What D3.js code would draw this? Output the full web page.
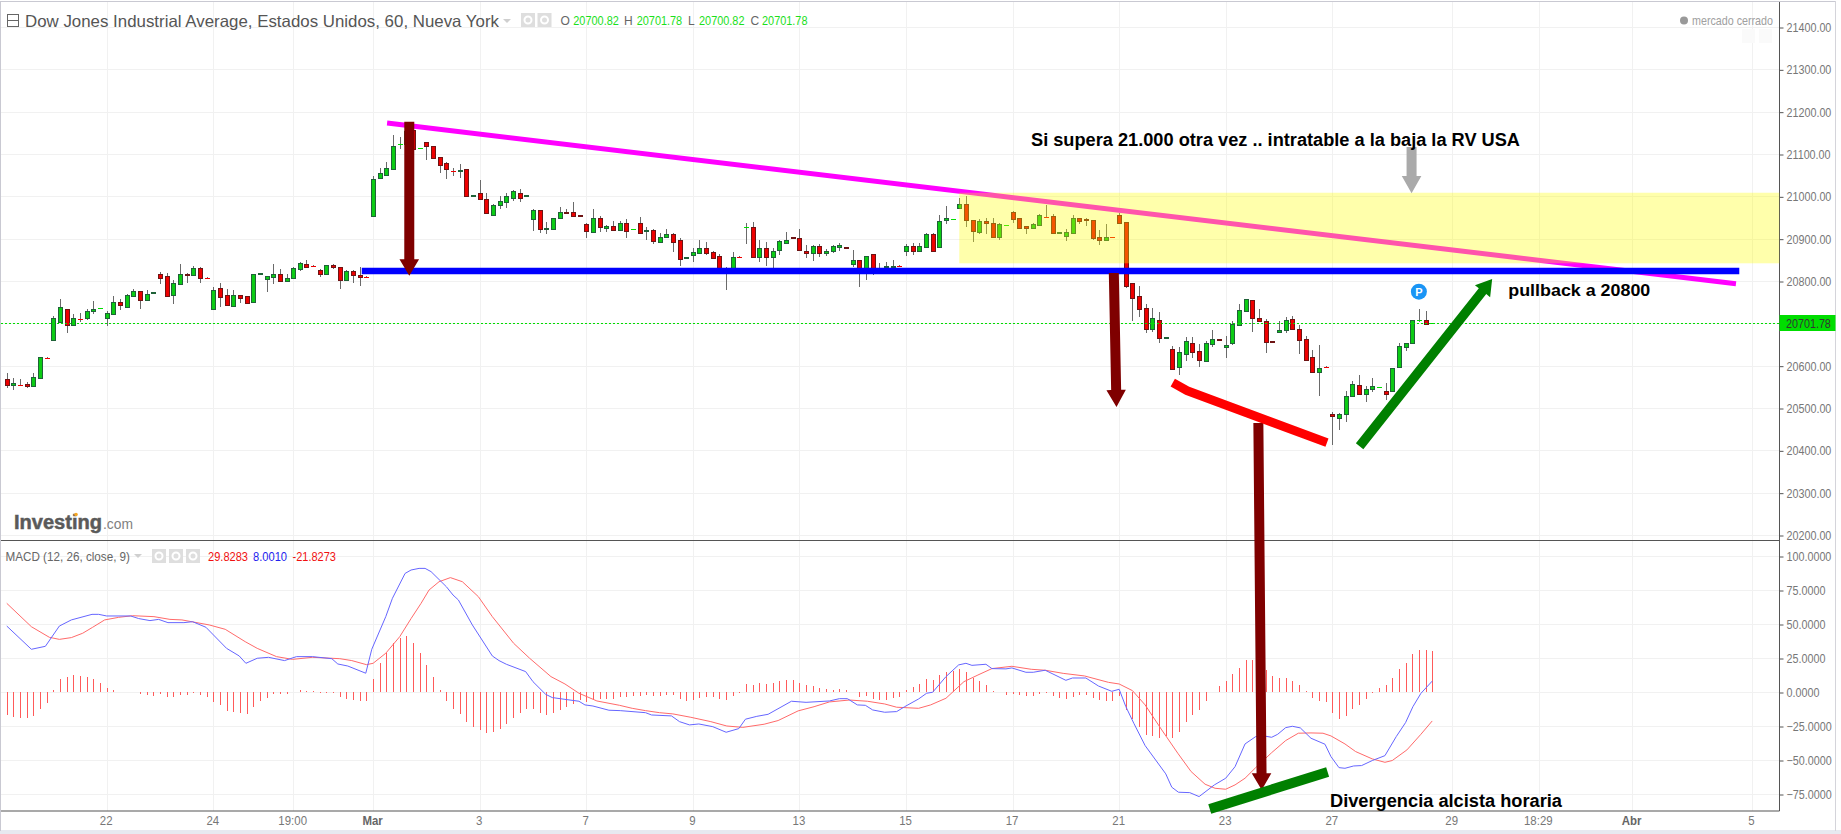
<!DOCTYPE html>
<html>
<head>
<meta charset="utf-8">
<script src="https://d3js.org/d3.v7.min.js"></script>
<style>
  body { margin: 0; background: #fff; font-family: "Liberation Sans", Arial, sans-serif; }
  svg { display: block; }
  .axis text { font-family: "Liberation Sans", Arial, sans-serif; font-size: 12.5px; fill: #777; }
  .axis line { stroke: #555; }
  .time-axis text { font-size: 13px; fill: #777; }
  .grid line { stroke: #f1f1f1; stroke-width: 1; shape-rendering: crispEdges; }
</style>
</head>
<body>
<div id="chart"></div>
<script>
// [open, high, low, close], one row per hourly bar
const ohlc = [
  [20568,20582,20547,20555],[20555,20570,20543,20558],[20556,20568,20551,20555],[20556,20562,20548,20552],[20553,20582,20553,20573],
  [20572,20620,20572,20620],[20620,20620,20619,20619],[20661,20717,20661,20712],[20704,20758,20704,20738],[20735,20735,20678,20695],
  [20697,20722,20697,20712],[20712,20724,20702,20711],[20713,20735,20708,20728],[20728,20753,20722,20735],[20735,20736,20735,20736],
  [20713,20729,20694,20724],[20723,20765,20722,20750],[20750,20758,20732,20744],[20739,20769,20739,20766],[20765,20780,20765,20776],
  [20776,20776,20733,20754],[20754,20778,20754,20769],[20771,20773,20771,20773],[20816,20821,20793,20808],[20811,20819,20763,20765],
  [20766,20802,20746,20795],[20792,20840,20791,20816],[20816,20818,20796,20813],[20813,20835,20813,20830],[20830,20832,20796,20806],
  [20809,20809,20808,20808],[20733,20785,20733,20778],[20783,20795,20739,20763],[20766,20780,20744,20744],[20742,20779,20742,20766],
  [20766,20768,20749,20761],[20764,20764,20747,20749],[20750,20816,20747,20816],[20816,20818,20816,20818],[20805,20811,20774,20811],
  [20810,20840,20793,20816],[20816,20828,20801,20801],[20801,20817,20798,20806],[20806,20834,20806,20830],[20829,20846,20824,20842],
  [20839,20850,20831,20834],[20837,20837,20836,20836],[20825,20828,20810,20817],[20817,20838,20817,20837],[20837,20839,20828,20832],
  [20832,20832,20781,20803],[20803,20825,20802,20823],[20823,20825,20796,20813],[20814,20832,20788,20810],[20811,20811,20810,20810],
  [20954,21048,20954,21040],[21044,21068,21041,21054],[21051,21081,21051,21066],[21065,21145,21065,21120],[21122,21140,21112,21123],
  [21123,21160,21118,21155],[21156,21160,21112,21112],[21112,21113,21112,21113],[21128,21128,21086,21120],[21120,21120,21091,21091],
  [21092,21092,21056,21073],[21078,21081,21041,21064],[21061,21066,21048,21060],[21061,21076,21043,21063],[21064,21064,21001,21001],
  [21000,21002,21000,21002],[21007,21038,20994,20994],[20993,21008,20961,20961],[20957,20983,20957,20979],[20980,21000,20970,20990],
  [20987,21007,20972,21000],[20997,21016,20990,21012],[21009,21017,20987,20997],[21000,21002,21000,21002],[20947,20969,20918,20967],
  [20967,20967,20914,20924],[20922,20939,20911,20925],[20924,20950,20922,20948],[20950,20975,20946,20964],[20964,20969,20958,20961],
  [20964,20987,20953,20954],[20955,20955,20953,20953],[20934,20936,20902,20919],[20916,20969,20916,20948],[20948,20953,20916,20928],
  [20926,20933,20916,20931],[20931,20941,20921,20921],[20921,20941,20921,20938],[20938,20946,20902,20919],[20922,20922,20922,20923],
  [20938,20951,20914,20914],[20917,20927,20898,20920],[20920,20924,20888,20895],[20893,20913,20891,20905],[20905,20924,20903,20910],
  [20910,20913,20869,20893],[20896,20901,20835,20853],[20854,20856,20854,20856],[20862,20879,20846,20868],[20867,20898,20864,20879],
  [20879,20891,20862,20867],[20868,20872,20853,20855],[20858,20864,20825,20828],[20828,20832,20779,20822],[20830,20868,20825,20856],
  [20858,20858,20857,20857],[20926,20936,20887,20927],[20927,20939,20857,20857],[20857,20898,20846,20877],[20879,20891,20835,20857],
  [20857,20877,20830,20872],[20874,20898,20861,20894],[20890,20915,20889,20898],[20905,20905,20903,20903],[20901,20922,20873,20874],
  [20872,20884,20855,20867],[20867,20884,20847,20882],[20882,20887,20857,20867],[20867,20875,20859,20872],[20872,20884,20865,20882],
  [20881,20889,20872,20884],[20881,20881,20879,20879],[20839,20873,20834,20849],[20849,20849,20787,20822],[20822,20858,20802,20858],
  [20863,20863,20813,20818],[20826,20842,20820,20828],[20832,20845,20825,20835],[20832,20850,20825,20835],[20837,20837,20836,20836],
  [20872,20887,20859,20882],[20882,20889,20861,20872],[20872,20889,20872,20882],[20881,20913,20879,20910],[20910,20913,20871,20872],
  [20881,20957,20881,20941],[20944,20977,20935,20948],[20946,20947,20946,20947],[20973,20997,20973,20982],[20981,21001,20928,20943],
  [20943,20944,20893,20919],[20916,20946,20910,20941],[20941,20948,20910,20938],[20936,20949,20905,20905],[20905,20938,20897,20934],
  [20931,20932,20931,20932],[20964,20965,20936,20947],[20948,20950,20924,20926],[20929,20929,20911,20926],[20926,20936,20926,20934],
  [20933,20958,20932,20955],[20953,20979,20952,20952],[20953,20958,20914,20914],[20913,20915,20913,20915],[20907,20922,20895,20915],
  [20914,20955,20914,20950],[20948,20950,20934,20942],[20946,20948,20930,20943],[20943,20944,20898,20902],[20905,20920,20885,20898],
  [20898,20935,20895,20903],[20905,20905,20904,20904],[20957,20960,20938,20938],[20939,20939,20784,20789],[20795,20795,20706,20761],
  [20764,20788,20716,20735],[20736,20746,20678,20686],[20686,20736,20680,20712],[20707,20727,20654,20666],[20665,20667,20665,20667],
  [20639,20647,20593,20593],[20598,20644,20579,20632],[20628,20667,20610,20658],[20653,20667,20619,20633],[20634,20651,20598,20614],
  [20612,20658,20612,20653],[20652,20684,20643,20662],[20662,20662,20660,20660],[20643,20669,20619,20650],[20653,20705,20650,20698],
  [20695,20746,20695,20731],[20728,20757,20728,20757],[20754,20754,20680,20713],[20712,20733,20705,20706],[20705,20710,20631,20657],
  [20658,20658,20656,20656],[20679,20705,20676,20684],[20685,20714,20678,20707],[20710,20717,20684,20686],[20686,20695,20628,20661],
  [20662,20669,20614,20614],[20620,20637,20584,20584],[20584,20649,20529,20594],[20599,20599,20598,20598],[20485,20490,20413,20480],
  [20476,20488,20447,20485],[20485,20540,20468,20528],[20528,20563,20525,20556],[20554,20577,20532,20534],[20534,20552,20515,20544],
  [20544,20571,20538,20551],[20549,20550,20549,20550],[20539,20558,20519,20534],[20539,20594,20539,20594],[20598,20653,20598,20646],
  [20643,20653,20635,20653],[20653,20707,20653,20707],[20706,20733,20702,20707],[20707,20729,20696,20698],[20700.82,20701.78,20700.82,20701.78]
];

const macdHist = [
  -16.7,-18.4,-19.1,-19.1,-17.6,-12.7,-8.1,1.2,9.6,11,12.5,11.8,11,9.6,6.6,2.9,1.5,0,0,0,
  -1.5,-2.2,-2.9,-1.5,-3.7,-3.7,-2.2,-2.2,-0.7,-2.2,-3.7,-7.4,-9.5,-14,-14.7,-15.2,-16.2,-11,-6.6,-4.4,
  -1.5,-1.5,-1.5,0,1.2,1,0.5,-0.5,-0.5,-1,-3.7,-5,-5.9,-6.6,-6.6,9.6,21.3,28.7,36,39.7,
  41,36,28.7,19.8,11,1.2,-6.6,-12.5,-16.2,-22,-25.5,-28,-30,-29.4,-27.2,-23.5,-19,-15.4,-12.5,-12.5,
  -15.4,-16.9,-15.4,-13.2,-11,-8.8,-5.9,-7.4,-5.9,-5,-5,-5,-3.4,-3.9,-3.2,-3.2,-2.5,-3.2,-3.2,-2.5,
  -2.5,-5.4,-6.6,-6.1,-4.7,-3.9,-3.9,-5.4,-6.1,-3.2,-0.5,5.6,4.9,6.4,5.6,6.4,7.8,8.6,8.6,6.4,
  4.9,4.2,2.7,2,1.2,2,1.2,0,-3.9,-3.2,-5.4,-6.1,-6.1,-4.7,-3.9,1.2,3.4,5.6,9.3,8.6,
  12.3,14.5,15.2,16.7,14.5,10,7.8,4.9,0.5,-0.2,-2,-1.5,-2.5,-3.2,-3.2,-1.7,-0.7,-3.2,-4.7,-5.4,
  -3.9,-2.5,-2,-4.7,-6.1,-6.9,-6.9,-3.2,-13.5,-20,-26,-31.9,-32.6,-34,-32.6,-34,-29.6,-22.3,-17,-13.5,
  -6.9,0,4.2,7.8,13,18,23.3,23.3,20,16,11.5,10,10,7.8,4.9,0.7,-4.4,-6.9,-7.4,-15.4,
  -19.8,-17.9,-12.5,-9.6,-5.1,-0.7,2.9,4.9,10.3,16.9,21,27.9,30.6,30.6,29.83
];

// [bar, value] vertices of the two MACD lines
const macdLine = [
  [0,48.5],[3.7,31.4],[5.8,33.6],[7.9,48.5],[9.7,53],[12.8,57.1],[13.8,57.1],[15,55.9],[18.6,55.9],[19.8,54],[21.5,52.5],[22.8,53.4],[24.2,51],[26.6,51],[27.9,51.7],[29.9,47.6],[33,32.1],[34.9,26.5],[35.9,21.1],[37.6,24.8],[39.3,25.5],[41.7,23.1],[43.5,26],[45.9,26],[48.8,24.5],[49.7,20.6],[51.2,19.1],[53.9,13.8],[54.8,31.4],[56.9,55.4],[57.9,68.9],[59.8,87.2],[60.7,89.7],[61.9,90.9],[62.8,90.9],[63.7,88.5],[66,77.4],[67,71.3],[67.8,67.7],[69.9,49.3],[72.9,26.5],[73.9,23.1],[75,20.4],[77.9,15],[79,7.6],[80.9,-1.7],[81.9,-4.1],[83.8,-5.4],[85.9,-6.8],[86.8,-9.5],[88,-10.3],[90.4,-13.4],[92.1,-13.7],
  [95.9,-15.2],[96.8,-16.9],[99.8,-17.6],[101,-21.8],[102.5,-24.2],[103.9,-23.5],[106,-25.5],[108,-29.6],[109.9,-26.9],[110.9,-20],[112.6,-17.9],[114.3,-16.4],[117.8,-6.8],[120,-7.6],[123.5,-6.6],[125,-4.9],[126.2,-4.9],[127.7,-9.5],[128.9,-9.8],[130,-13.2],[131.8,-14.9],[133.6,-14.4],[134.8,-10.8],[136.9,-5.1],[138.1,-0.9],[139,-0.2],[141,11.3],[142.9,19.9],[144,21.1],[144.9,19.6],[147,20.4],[147.9,17.2],[150,17],[150.9,17.7],[153,14.5],[154.1,14.5],[155.9,16],[159,8.6],[160,10.3],[162,10.3],[163.9,4.4],[165.9,0.5],[167,2],[168,-10.7],[169.2,-23],[170.9,-39.4],[174,-60.2],[174.9,-70],[175.9,-73.7],[177.6,-74],[179,-76.9],
  [181.3,-68.3],[183,-63.4],[184.4,-54.9],[185.9,-38.2],[187.5,-32.8],[188.7,-32.3],[189.9,-33.3],[190.8,-31.1],[192,-26.2],[193,-25.2],[194.2,-26.4],[195.8,-34],[197.9,-38.4],[198.8,-47.5],[200,-55.6],[200.9,-56.1],[202.2,-54.4],[203.4,-54.1],[205,-50.4],[206.9,-46.8],[208.6,-32.8],[210,-22.5],[211.1,-10.8],[212.3,-1],[214,8]
];
const signalLine = [
  [0,65.2],[3.7,48],[6.4,40.2],[7.9,38.7],[9.7,40],[11.4,43.2],[12.9,47.6],[14.7,53],[16.8,54.9],[18.9,56.1],[22.1,55.4],[24.5,53.4],[26.3,53],[30.4,49.3],[32.8,46.1],[35.8,37],[37.6,32.1],[40.5,26],[42.9,24],[45.9,25.5],[50,24.5],[51.8,23.1],[54,20.1],[55,21.1],[56.9,28.5],[59,40.7],[60.7,54],[62.2,65.2],[63.4,75],[64.9,81.1],[66.6,84.1],[68.4,81.1],[70.8,70.1],[72.9,55.4],[76.1,35.8],[78.5,24.8],[81.7,11.3],[83.8,5.9],[85.9,-0.9],[88.6,-6.6],[92,-9.8],
  [93.9,-12],[95.9,-13.7],[98,-15.2],[100,-16.1],[102.7,-18.6],[105.7,-21.8],[108.1,-25],[110.5,-26],[113.7,-23.7],[115.8,-21],[118.8,-13.9],[121.2,-10.8],[123.5,-7.3],[126.5,-5.9],[129.2,-6.8],[131.8,-8.8],[133.6,-11.2],[136.9,-12],[138.7,-9.5],[141,-4.6],[143.7,7.6],[145.8,12.5],[147.9,17.2],[150.9,18.9],[153.8,16.7],[155.9,16],[158.6,13.7],[161.8,11.8],[165.4,7.1],[167,5.9],[169,1],[170.9,-9.5],[173.4,-27.9],[175.8,-45],[177.8,-58.5],[179.9,-67.8],[181.4,-70.8],[183,-71.5],
  [184.4,-68.3],[185.9,-63.4],[187.5,-55.6],[189.9,-44.6],[192,-35.7],[193.9,-30.3],[195.8,-30.1],[197.6,-30.3],[198.8,-32.3],[200.9,-38.2],[202.5,-43.8],[205,-49.2],[206.9,-51.7],[208,-50.4],[210.2,-42.6],[212.3,-31.1],[214,-21.3]
];

const timeBars = [15, 31, 43, 55, 71, 87, 103, 119, 135, 151, 167, 183, 199, 217, 230, 244, 262];
const timeLabels = ["22", "24", "19:00", "Mar", "3", "7", "9", "13", "15", "17", "21", "23", "27", "29", "18:29", "Abr", "5"];
const priceTicks = d3.range(20200, 21401, 100);
const macdTicks = [-75, -50, -25, 0, 25, 50, 75, 100];
const lastPrice = 20701.78;

// hand drawn annotations, in [bar, price]
const trendLine = [[57.1, 21173], [259.6, 20793.6]];
const supportLine = [[53.3, 20823.6], [260.1, 20823.6]];
const supplyZone = { bars: [143, 266.1], prices: [21008.5, 20841.8] };
const redLine = [[175.05, 20559.9], [177.2, 20540.9], [198.2, 20418.2]];
const pullbackArrow = [[203.1, 20409.7], [223, 20804.7]];
const topArrow = [[60.43, 21176], [60.43, 20812.5]];
const midArrow = [[166.2, 20818.9], [166.6, 20502.5]];
const grayArrow = [[210.9, 21116.4], [210.9, 21007]];
const dividendMark = [212, 20774.7];
// these two reach into the MACD pane
const divergenceArrowTail = [187.9, 20464.7];
const divergenceArrowTip = [188.4, -72];
const divergenceLine = [[180.6, -86], [198.3, -58.8]];

const width = 1841, height = 834;
const axisX = 1779.5, paneTop = 2, paneSplit = 540.5, paneBottom = 811;

const x = d3.scaleLinear().domain([0, 199]).range([6.75, 1332.3]);
const y = d3.scaleLinear().domain([20800, 21400]).range([281, 27]);
const yMacd = d3.scaleLinear().domain([0, 100]).range([692, 556]);

const svg = d3.select("#chart").append("svg")
    .attr("width", width)
    .attr("height", height);

// labels in the screenshot are hinted narrower than Liberation Sans
function narrow(sel, k) {
  sel.each(function() {
    d3.select(this)
      .attr("textLength", this.getComputedTextLength() * k)
      .attr("lengthAdjust", "spacingAndGlyphs");
  });
}

// frame
svg.append("rect").attr("x", 0).attr("y", 830).attr("width", width).attr("height", 4).attr("fill", "#e7e9f0");
svg.append("rect").attr("x", 0).attr("y", 1).attr("width", 1836).attr("height", 1).attr("fill", "#c9c9d2");
svg.append("rect").attr("x", 0).attr("y", 1).attr("width", 1).attr("height", 830).attr("fill", "#c9c9d2");
svg.append("rect").attr("x", 1835).attr("y", 1).attr("width", 1).attr("height", 830).attr("fill", "#d4d4da");

// grid
const grid = svg.append("g").attr("class", "grid");
grid.selectAll(".v").data(timeBars).join("line")
    .attr("x1", d => Math.round(x(d)) + .5).attr("x2", d => Math.round(x(d)) + .5)
    .attr("y1", paneTop).attr("y2", paneBottom);
grid.selectAll(".h").data(priceTicks).join("line").attr("class", "h")
    .attr("x1", 1).attr("x2", axisX)
    .attr("y1", d => Math.round(y(d)) + .5).attr("y2", d => Math.round(y(d)) + .5);
grid.selectAll(".m").data(macdTicks).join("line").attr("class", "m")
    .attr("x1", 1).attr("x2", axisX)
    .attr("y1", d => Math.round(yMacd(d)) + .5).attr("y2", d => Math.round(yMacd(d)) + .5);

// candles
const bars = svg.append("g").selectAll("g").data(ohlc).join("g")
    .attr("transform", (d, i) => `translate(${Math.round(x(i))},0)`);

bars.append("line")
    .attr("x1", .5).attr("x2", .5)
    .attr("y1", d => y(d[1])).attr("y2", d => y(d[2]))
    .attr("stroke", "#6a6a6a")
    .attr("shape-rendering", "crispEdges");

bars.filter(d => Math.abs(d[0] - d[3]) > 1).append("rect")
    .attr("x", -1.5).attr("width", 4)
    .attr("y", d => Math.round(y(Math.max(d[0], d[3]))) + .5)
    .attr("height", d => Math.max(1, Math.round(y(Math.min(d[0], d[3]))) - Math.round(y(Math.max(d[0], d[3])))))
    .attr("fill", d => d[3] >= d[0] ? "#0ccc14" : "#ee0000")
    .attr("stroke", d => d[3] >= d[0] ? "#1f6238" : "#6e1414");

// dojis come out as a plain bright dash
bars.filter(d => Math.abs(d[0] - d[3]) <= 1).append("rect")
    .attr("x", -2).attr("width", 5).attr("height", 1)
    .attr("y", d => Math.round(y(d[3])))
    .attr("fill", d => d[3] >= d[0] ? "#00dd00" : "#ee0000");

// last price
svg.append("line")
    .attr("x1", 1).attr("x2", axisX)
    .attr("y1", Math.round(y(lastPrice)) + .5).attr("y2", Math.round(y(lastPrice)) + .5)
    .attr("stroke", "#00dd00")
    .attr("stroke-dasharray", "2,2");

// MACD pane
svg.append("g").selectAll("rect").data(macdHist).join("rect")
    .attr("x", (d, i) => Math.round(x(i)))
    .attr("width", 1)
    .attr("y", d => Math.round(yMacd(Math.max(d, 0))))
    .attr("height", d => Math.round(Math.abs(yMacd(d) - yMacd(0))))
    .attr("fill", "#ff5a5a");

const line = d3.line().x(d => x(d[0])).y(d => yMacd(d[1]));

svg.append("path").datum(signalLine)
    .attr("d", line).attr("fill", "none").attr("stroke", "#ff6a6a");
svg.append("path").datum(macdLine)
    .attr("d", line).attr("fill", "none").attr("stroke", "#6666ff");

// axes
const priceAxis = svg.append("g").attr("class", "axis")
    .attr("transform", `translate(${axisX},.5)`)
    .call(d3.axisRight(y).tickValues(priceTicks).tickSize(4).tickPadding(3).tickFormat(d3.format(".2f")));
priceAxis.select(".domain").remove();
priceAxis.selectAll("text").call(narrow, .86);

const macdAxis = svg.append("g").attr("class", "axis")
    .attr("transform", `translate(${axisX},.5)`)
    .call(d3.axisRight(yMacd).tickValues(macdTicks).tickSize(4).tickPadding(3).tickFormat(d3.format(".4f")));
macdAxis.select(".domain").remove();
macdAxis.selectAll("text").call(narrow, .86);

const timeAxis = svg.append("g").attr("class", "axis time-axis")
    .attr("transform", `translate(-1,${paneBottom})`)
    .call(d3.axisBottom(x).tickValues(timeBars).tickSize(0).tickPadding(5)
      .tickFormat(d => timeLabels[timeBars.indexOf(d)]));
timeAxis.select(".domain").remove();
timeAxis.selectAll("text")
    .style("font-weight", d => (d === 55 || d === 244) ? "bold" : "normal")
    .style("fill", d => (d === 55 || d === 244) ? "#666" : "#777")
    .call(narrow, .88);

svg.append("line").attr("x1", axisX).attr("x2", axisX).attr("y1", paneTop).attr("y2", paneBottom)
    .attr("stroke", "#555");
svg.append("line").attr("x1", 1).attr("x2", axisX).attr("y1", paneSplit).attr("y2", paneSplit)
    .attr("stroke", "#555").attr("stroke-width", 1.2);
svg.append("line").attr("x1", 1).attr("x2", axisX).attr("y1", paneBottom).attr("y2", paneBottom)
    .attr("stroke", "#555").attr("stroke-width", 1.2);

// price tag
const tagY = Math.round(y(lastPrice));
svg.append("rect").attr("x", axisX).attr("y", tagY - 8).attr("width", 56).attr("height", 16).attr("fill", "#00dd00");
svg.append("text").attr("x", 1786).attr("y", tagY + 4.5).attr("font-size", 12.5).attr("fill", "#333")
    .text(d3.format(".2f")(lastPrice)).call(narrow, .86);

// header
const head = svg.append("g");
head.append("rect").attr("x", 7.5).attr("y", 14.5).attr("width", 11).attr("height", 12)
    .attr("fill", "none").attr("stroke", "#666");
head.append("line").attr("x1", 8).attr("x2", 18).attr("y1", 20.5).attr("y2", 20.5).attr("stroke", "#666");
head.append("text").attr("x", 25).attr("y", 26.5).attr("font-size", 16.5).attr("fill", "#555")
    .attr("textLength", 474).attr("lengthAdjust", "spacingAndGlyphs")
    .text("Dow Jones Industrial Average, Estados Unidos, 60, Nueva York");

const caret = (g, cx, cy) => g.append("path")
    .attr("d", `M${cx - 4},${cy - 2}h8l-4,4z`).attr("fill", "#cfcfcf");
const iconBox = (g, bx, by, size) => {
  g.append("rect").attr("x", bx).attr("y", by).attr("width", size).attr("height", size).attr("fill", "#dedede");
  g.append("circle").attr("cx", bx + size / 2).attr("cy", by + size / 2).attr("r", size / 4)
      .attr("fill", "none").attr("stroke", "#fff").attr("stroke-width", 2);
};
caret(head, 507, 21);
iconBox(head, 521, 13, 14);
iconBox(head, 537.5, 13, 14);

const ohlcHeader = [
  ["O", 560.5, "20700.82", 573.3],
  ["H", 624, "20701.78", 636.7],
  ["L", 688, "20700.82", 699],
  ["C", 750.5, "20701.78", 762]
];
ohlcHeader.forEach(([k, kx, v, vx]) => {
  head.append("text").attr("x", kx).attr("y", 25).attr("font-size", 12).attr("fill", "#666").text(k);
  head.append("text").attr("x", vx).attr("y", 25).attr("font-size", 12).attr("fill", "#1be01b")
      .attr("textLength", 45.5).attr("lengthAdjust", "spacingAndGlyphs").text(v);
});

head.append("circle").attr("cx", 1684).attr("cy", 20.5).attr("r", 4).attr("fill", "#999");
head.append("text").attr("x", 1692).attr("y", 25).attr("font-size", 13).attr("fill", "#a0a0a0")
    .attr("textLength", 81).attr("lengthAdjust", "spacingAndGlyphs").text("mercado cerrado");
head.append("rect").attr("x", 1742).attr("y", 29).attr("width", 13).attr("height", 14).attr("fill", "#fafafa");
head.append("rect").attr("x", 1759).attr("y", 29).attr("width", 13).attr("height", 14).attr("fill", "#fafafa");

// MACD header
head.append("text").attr("x", 5.5).attr("y", 560.5).attr("font-size", 13.5).attr("fill", "#666")
    .attr("textLength", 124.5).attr("lengthAdjust", "spacingAndGlyphs").text("MACD (12, 26, close, 9)");
caret(head, 138, 556);
iconBox(head, 152, 549, 14);
iconBox(head, 169, 549, 14);
iconBox(head, 186, 549, 14);
[["29.8283", 208, 40, "#f01010"], ["8.0010", 253, 34, "#2222ee"], ["-21.8273", 292.5, 43.5, "#f01010"]]
  .forEach(([t, tx, w, c]) => {
    head.append("text").attr("x", tx).attr("y", 561).attr("font-size", 12).attr("fill", c)
        .attr("textLength", w).attr("lengthAdjust", "spacingAndGlyphs").text(t);
  });

// logo
head.append("text").attr("x", 14).attr("y", 529).attr("font-size", 20).attr("font-weight", "bold").attr("fill", "#5a5a5a")
    .attr("stroke", "#5a5a5a").attr("stroke-width", .5)
    .attr("textLength", 88).attr("lengthAdjust", "spacingAndGlyphs").text("Investing");
head.append("circle").attr("cx", 76).attr("cy", 514.5).attr("r", 1.8).attr("fill", "#f5a623");
head.append("text").attr("x", 103).attr("y", 529).attr("font-size", 15).attr("fill", "#808080")
    .attr("textLength", 30).attr("lengthAdjust", "spacingAndGlyphs").text(".com");

// annotations
const over = svg.append("g");
const priceLine = d3.line().x(d => x(d[0])).y(d => y(d[1]));

over.append("path").datum(trendLine).attr("d", priceLine)
    .attr("stroke", "#ff00ff").attr("stroke-width", 5).attr("fill", "none");

over.append("rect")
    .attr("x", x(supplyZone.bars[0])).attr("width", x(supplyZone.bars[1]) - x(supplyZone.bars[0]))
    .attr("y", y(supplyZone.prices[0])).attr("height", y(supplyZone.prices[1]) - y(supplyZone.prices[0]))
    .attr("fill", "#ffff00").attr("fill-opacity", .33);

over.append("path").datum(supportLine).attr("d", priceLine)
    .attr("stroke", "#0000ff").attr("stroke-width", 6.5).attr("fill", "none");

function arrow(p0, p1, shaft, headLen, headHalf, color) {
  const dx = p1[0] - p0[0], dy = p1[1] - p0[1], len = Math.hypot(dx, dy);
  const ux = dx / len, uy = dy / len, nx = -uy, ny = ux;
  const bx = p1[0] - ux * headLen, by = p1[1] - uy * headLen;
  const pts = [
    [p0[0] + nx * shaft / 2, p0[1] + ny * shaft / 2],
    [bx + nx * shaft / 2, by + ny * shaft / 2],
    [bx + nx * headHalf, by + ny * headHalf],
    p1,
    [bx - nx * headHalf, by - ny * headHalf],
    [bx - nx * shaft / 2, by - ny * shaft / 2],
    [p0[0] - nx * shaft / 2, p0[1] - ny * shaft / 2]
  ];
  over.append("polygon").attr("points", pts.map(p => p.join(",")).join(" ")).attr("fill", color);
}
const toPx = d => [x(d[0]), y(d[1])];

arrow(toPx(topArrow[0]), toPx(topArrow[1]), 10, 16.4, 9.8, "#7f0000");
arrow(toPx(midArrow[0]), toPx(midArrow[1]), 10, 17, 9.7, "#7f0000");
arrow(toPx(divergenceArrowTail), [x(divergenceArrowTip[0]), yMacd(divergenceArrowTip[1])], 10, 16.7, 9.8, "#7f0000");
arrow(toPx(grayArrow[0]), toPx(grayArrow[1]), 10, 17.3, 9.8, "#aaaaaa");
arrow(toPx(pullbackArrow[0]), toPx(pullbackArrow[1]), 9.5, 15.5, 9.7, "#008000");

over.append("path").datum(redLine).attr("d", priceLine)
    .attr("stroke", "#ff0000").attr("stroke-width", 8.8).attr("fill", "none");

over.append("path").datum(divergenceLine)
    .attr("d", d3.line().x(d => x(d[0])).y(d => yMacd(d[1])))
    .attr("stroke", "#008000").attr("stroke-width", 10).attr("fill", "none");

// dividend badge
over.append("circle").attr("cx", x(dividendMark[0])).attr("cy", y(dividendMark[1])).attr("r", 8).attr("fill", "#1a95f5");
over.append("text").attr("x", x(dividendMark[0])).attr("y", y(dividendMark[1]) + 4)
    .attr("text-anchor", "middle").attr("font-size", 11).attr("font-weight", "bold").attr("fill", "#fff").text("P");

// the pasted captions
svg.append("clipPath").attr("id", "pullback-clip")
  .append("rect").attr("x", 1500).attr("y", 283.5).attr("width", 160).attr("height", 20);

const caption = (tx, ty, w, txt, size) => over.append("text")
    .attr("x", tx).attr("y", ty).attr("font-size", size).attr("font-weight", "bold").attr("fill", "#000")
    .attr("textLength", w).attr("lengthAdjust", "spacingAndGlyphs").text(txt);

caption(1031, 146, 489, "Si supera 21.000 otra vez .. intratable a la baja la RV USA", 17.5);
caption(1508.3, 296, 142, "pullback a 20800", 17).attr("clip-path", "url(#pullback-clip)");
caption(1330, 807.3, 232, "Divergencia alcista horaria", 18);
</script>
</body>
</html>
